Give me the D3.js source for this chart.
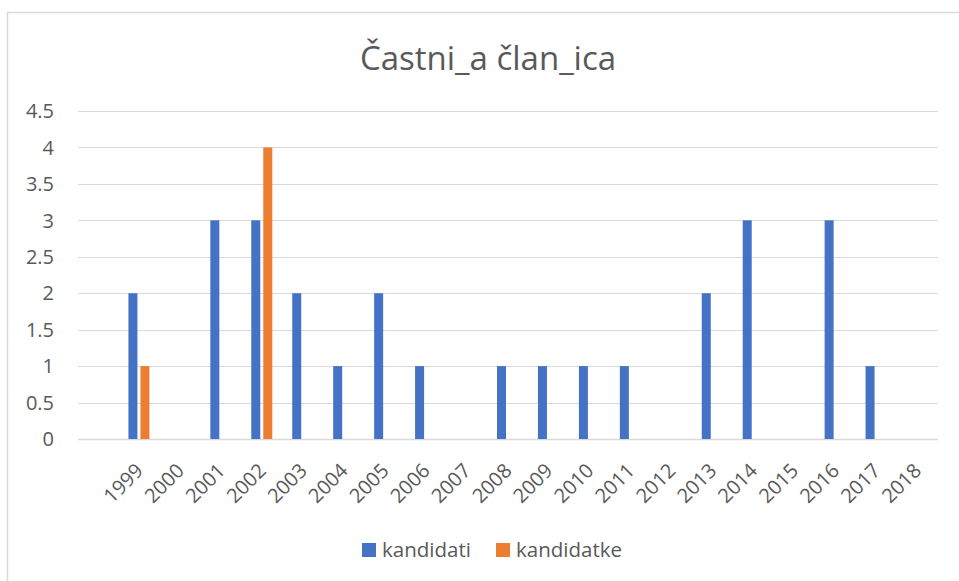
<!DOCTYPE html>
<html>
<head>
<meta charset="utf-8">
<script src="https://cdn.jsdelivr.net/npm/d3@7"></script>
<style>
  body { margin: 0; background: #fff; }
  text { font-family: "Open Sans", Lato, sans-serif; fill: #595959; }
</style>
</head>
<body>
<div id="chart"></div>
<script>
var width = 959, height = 581;

// first slot is an empty category, as in the original sheet
var years = ['', '1999', '2000', '2001', '2002', '2003', '2004', '2005', '2006', '2007',
             '2008', '2009', '2010', '2011', '2012', '2013', '2014', '2015', '2016', '2017', '2018'];
var kandidati =   [0, 2, 0, 3, 3, 2, 1, 2, 1, 0, 1, 1, 1, 1, 0, 2, 3, 0, 3, 1, 0];
var kandidatke =  [0, 1, 0, 0, 4, 0, 0, 0, 0, 0, 0, 0, 0, 0, 0, 0, 0, 0, 0, 0, 0];
var yTicks = [0, 0.5, 1, 1.5, 2, 2.5, 3, 3.5, 4, 4.5];
var seriesNames = ['kandidati', 'kandidatke'];
var colors = ['#4472C4', '#ED7D31'];

var svg = d3.select('#chart').append('svg')
    .attr('width', width)
    .attr('height', height);

// chart border (only left and top visible)
svg.append('path')
    .attr('d', 'M7.5,' + height + ' V12.5 H' + width)
    .attr('fill', 'none')
    .attr('stroke', '#d9d9d9')
    .attr('stroke-width', 1.5);

var x = d3.scaleBand().domain(years).range([78, 938]);
var y = d3.scaleLinear().domain([0, 4.5]).range([439, 111]);

// gridlines
svg.selectAll('.grid')
    .data(yTicks).enter()
    .append('line')
    .attr('x1', 78).attr('x2', 938)
    .attr('y1', function(d) { return Math.round(y(d)) + 0.5; })
    .attr('y2', function(d) { return Math.round(y(d)) + 0.5; })
    .attr('stroke', '#d9d9d9')
    .attr('stroke-width', function(d) { return d === 0 ? 1.5 : 1; });

// y labels
svg.selectAll('.ylab')
    .data(yTicks).enter()
    .append('text')
    .attr('x', 54)
    .attr('y', function(d) { return y(d); })
    .attr('dy', '0.36em')
    .attr('text-anchor', 'end')
    .style('font-size', '20px')
    .text(function(d) { return d; });

// bars
var barW = 9;
[kandidati, kandidatke].forEach(function(vals, si) {
    var data = vals.map(function(v, i) { return { year: years[i], v: v }; })
                   .filter(function(d) { return d.v > 0; });
    svg.selectAll('.bar' + si)
        .data(data).enter()
        .append('rect')
        .attr('class', 'bar' + si)
        .attr('x', function(d) {
            var c = x(d.year) + x.bandwidth() / 2;
            return si === 0 ? c - 11 : c + 1;
        })
        .attr('width', barW)
        .attr('y', function(d) { return y(d.v); })
        .attr('height', function(d) { return y(0) - y(d.v); })
        .attr('fill', colors[si]);
});

// x labels
svg.selectAll('.xlab')
    .data(years.slice(1)).enter()
    .append('text')
    .attr('text-anchor', 'end')
    .style('font-size', '20px')
    .attr('transform', function(d) {
        var c = x(d) + x.bandwidth() / 2 + 5;
        return 'translate(' + c + ',472) rotate(-45)';
    })
    .text(function(d) { return d; });

// title
svg.append('text')
    .attr('x', 488)
    .attr('y', 70)
    .attr('text-anchor', 'middle')
    .style('font-size', '33px')
    .text('Častni_a član_ica');

// legend
var legendX = [362, 496];
seriesNames.forEach(function(name, i) {
    svg.append('rect')
        .attr('x', legendX[i]).attr('y', 543)
        .attr('width', 14).attr('height', 14)
        .attr('fill', colors[i]);
    svg.append('text')
        .attr('x', legendX[i] + 20).attr('y', 557)
        .style('font-size', '20.5px')
        .text(name);
});
</script>
</body>
</html>
